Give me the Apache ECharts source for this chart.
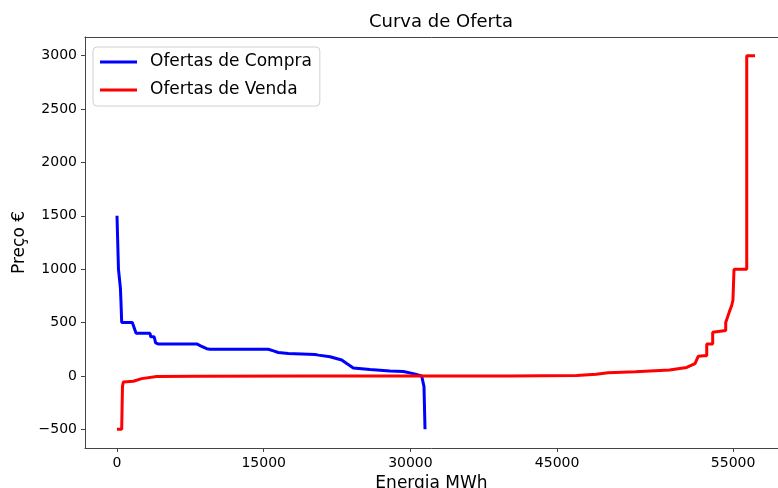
<!DOCTYPE html>
<html lang="en">
<head>
    <meta charset="UTF-8">
    <title>Curva de Oferta</title>
    <script src="https://cdn.jsdelivr.net/npm/echarts@6.0.0/dist/echarts.min.js"></script>
    <style>
        html, body {
            margin: 0;
            padding: 0;
            background: #fff;
        }

        #main {
            width: 778px;
            height: 488px;
        }
    </style>
</head>
<body>
<div id="main"></div>
<script>
    // ofertas de compra (energia acumulada MWh, preço €)
    var compraEnergia = [0, 100, 150, 250, 350, 400, 480, 1565, 1700, 1950, 3374, 3450, 3800, 3950, 4200, 8150, 8600, 9170, 9500,
        15470, 16000, 16490, 17515, 20245, 20600, 21780, 22975, 23490, 24160, 25870, 27910, 29275, 30300, 31155, 31390, 31495];
    var compraPreco = [1500, 1500, 1000, 1000, 820, 710, 500, 500, 466, 400, 400, 366, 366, 310, 300, 300, 280, 255, 250,
        250, 235, 220, 210, 200, 195, 180, 150, 116, 75, 60, 47, 42, 22, 0, -100, -500];

    // ofertas de venda
    var vendaEnergia = [0, 480, 560, 645, 1670, 2525, 4060, 8000, 20000, 40000, 47000, 49000, 50200, 53000, 56500, 58250,
        59100, 59440, 60000, 60300, 60300, 60910, 60910, 62240, 62240, 62610, 62850, 62980, 63090, 64390, 64390, 65240];
    var vendaPreco = [-500, -500, -100, -56, -50, -25, -5, -2, 0, 0, 3, 15, 30, 40, 55, 80,
        116, 185, 190, 190, 300, 300, 410, 425, 500, 600, 660, 710, 1000, 1000, 3000, 3000];

    var xTickValues = [0, 15000, 30000, 45000, 63000];
    var xTickLabels = ['0', '15000', '30000', '45000', '55000'];
    var yTickValues = [-500, 0, 500, 1000, 1500, 2000, 2500, 3000];

    function pares(xs, ys) {
        var out = [];
        for (var i = 0; i < xs.length; i++) {
            out.push([xs[i], ys[i]]);
        }
        return out;
    }

    var fonte = 'DejaVu Sans';
    var xMin = -3272, xMax = 67587;

    var myChart = echarts.init(document.getElementById('main'));
    var option = {
        animation: false,
        backgroundColor: '#fff',
        title: {
            text: 'Curva de Oferta',
            left: 436,
            top: 8,
            textAlign: 'center',
            textStyle: {fontFamily: fonte, fontSize: 18, fontWeight: 'normal', color: '#000'}
        },
        legend: {
            orient: 'vertical',
            left: 93,
            top: 47,
            icon: 'rect',
            itemWidth: 37,
            itemHeight: 3,
            itemGap: 8,
            padding: [5, 8, 6, 7],
            backgroundColor: 'rgba(255,255,255,0.8)',
            borderColor: '#d0d0d0',
            borderWidth: 1,
            borderRadius: 4,
            textStyle: {fontFamily: fonte, fontSize: 17, color: '#000', lineHeight: 20, padding: [0, 0, 0, 8]},
            data: ['Ofertas de Compra', 'Ofertas de Venda']
        },
        grid: {left: 85, right: 0, top: 37, bottom: 40, outerBoundsMode: 'none'},
        xAxis: [{
            type: 'value',
            min: xMin,
            max: xMax,
            position: 'bottom',
            name: 'Energia MWh',
            nameLocation: 'middle',
            nameGap: 23,
            nameTextStyle: {fontFamily: fonte, fontSize: 17, color: '#000'},
            axisLine: {show: true, onZero: false, lineStyle: {color: '#444', width: 1}},
            axisTick: {show: true, length: 4, customValues: xTickValues, lineStyle: {color: '#444'}},
            axisLabel: {
                customValues: xTickValues,
                margin: 8,
                fontFamily: fonte,
                fontSize: 14,
                color: '#000',
                formatter: function (v) {
                    var i = xTickValues.indexOf(v);
                    return i >= 0 ? xTickLabels[i] : '';
                }
            },
            splitLine: {show: false}
        }, {
            type: 'value',
            min: xMin,
            max: xMax,
            position: 'top',
            axisLine: {show: true, onZero: false, lineStyle: {color: '#444', width: 1}},
            axisTick: {show: false},
            axisLabel: {show: false},
            splitLine: {show: false}
        }],
        yAxis: {
            type: 'value',
            min: -675,
            max: 3175,
            name: 'Preço €',
            nameLocation: 'middle',
            nameGap: 56,
            nameTextStyle: {fontFamily: fonte, fontSize: 17, color: '#000'},
            axisLine: {show: true, onZero: false, lineStyle: {color: '#444', width: 1}},
            axisTick: {show: true, length: 4, customValues: yTickValues, lineStyle: {color: '#444'}},
            axisLabel: {
                customValues: yTickValues,
                margin: 8,
                fontFamily: fonte,
                fontSize: 14,
                color: '#000',
                formatter: function (v) {
                    return v < 0 ? '\u2212' + (-v) : String(v);
                }
            },
            splitLine: {show: false}
        },
        series: [
            {
                name: 'Ofertas de Compra',
                type: 'line',
                symbol: 'none',
                color: '#0000ff',
                lineStyle: {width: 3, color: '#0000ff'},
                data: pares(compraEnergia, compraPreco)
            },
            {
                name: 'Ofertas de Venda',
                type: 'line',
                symbol: 'none',
                color: '#ff0000',
                lineStyle: {width: 3, color: '#ff0000'},
                data: pares(vendaEnergia, vendaPreco)
            }
        ]
    };
    myChart.setOption(option);
</script>
</body>
</html>
